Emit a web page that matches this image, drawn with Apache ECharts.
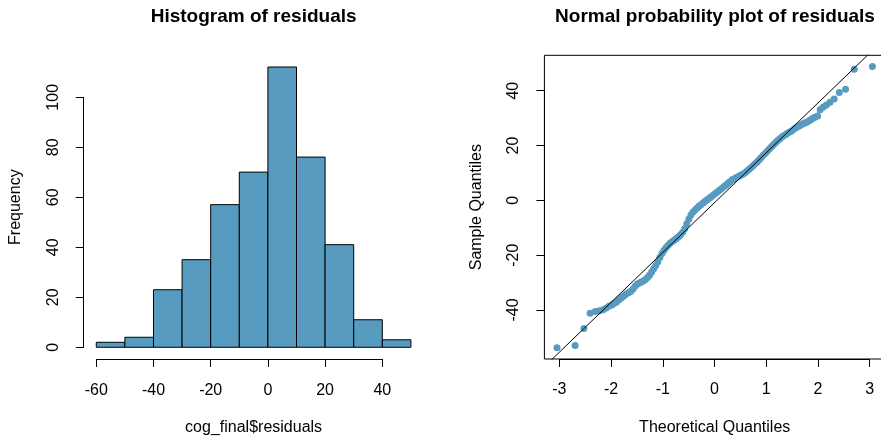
<!DOCTYPE html>
<html>
<head>
<meta charset="utf-8">
<script src="https://cdn.jsdelivr.net/npm/echarts@6/dist/echarts.min.js"></script>
<style>
  html, body { margin: 0; padding: 0; background: #fff; }
  #main { width: 881px; height: 438px; }
</style>
</head>
<body>
<div id="main"></div>
<script>
// histogram of residuals: bin edges and counts
var binEdges = [-60, -50, -40, -30, -20, -10, 0, 10, 20, 30, 40, 50];
var binCounts = [2, 4, 23, 35, 57, 70, 112, 76, 41, 11, 3];
var histXTicks = [-60, 40];   // axis drawn from .. to
var histYTicks = [0, 100];

// normal probability plot: [theoretical quantile, sample quantile]
var qqPoints = [
  [-3.05, -53.8], [-2.70, -53.0], [-2.53, -46.8], [-2.41, -41.2], [-2.31, -40.6],
  [-2.23, -40.3], [-2.16, -39.9], [-2.10, -39.3], [-2.04, -38.6], [-1.99, -38.2],
  [-1.94, -37.6], [-1.90, -37.1], [-1.86, -36.4], [-1.82, -35.8], [-1.78, -35.2],
  [-1.74, -34.6], [-1.70, -34.0], [-1.66, -33.6], [-1.62, -33.2], [-1.58, -32.4],
  [-1.54, -31.4], [-1.50, -30.6], [-1.46, -30.2], [-1.42, -29.8], [-1.38, -29.4],
  [-1.34, -28.9], [-1.30, -28.2], [-1.26, -27.3], [-1.22, -26.2], [-1.18, -25.0],
  [-1.14, -23.8], [-1.10, -22.4], [-1.06, -20.9], [-1.02, -19.4], [-0.98, -18.2],
  [-0.94, -17.2], [-0.90, -16.4], [-0.86, -15.6], [-0.82, -15.0], [-0.78, -14.5],
  [-0.74, -13.9], [-0.70, -13.3], [-0.66, -12.6], [-0.62, -11.7], [-0.58, -10.4],
  [-0.54, -8.6], [-0.50, -6.8], [-0.46, -5.4], [-0.42, -4.3], [-0.38, -3.5],
  [-0.34, -2.8], [-0.30, -2.1], [-0.26, -1.5], [-0.22, -0.9], [-0.18, -0.3],
  [-0.14, 0.3], [-0.10, 0.8], [-0.06, 1.4], [-0.02, 2.0], [0.02, 2.6],
  [0.06, 3.2], [0.10, 3.8], [0.14, 4.4], [0.18, 5.0], [0.22, 5.6],
  [0.26, 6.2], [0.30, 6.9], [0.34, 7.5], [0.38, 7.9], [0.42, 8.3],
  [0.46, 8.7], [0.50, 9.1], [0.54, 9.5], [0.58, 10.0], [0.62, 10.6],
  [0.66, 11.2], [0.70, 11.9], [0.74, 12.6], [0.78, 13.3], [0.82, 14.0],
  [0.86, 14.8], [0.90, 15.6], [0.94, 16.4], [0.98, 17.2], [1.02, 18.0],
  [1.06, 18.8], [1.10, 19.6], [1.14, 20.4], [1.18, 21.1], [1.22, 21.8],
  [1.26, 22.5], [1.30, 23.1], [1.34, 23.6], [1.38, 24.1], [1.42, 24.6],
  [1.46, 25.0], [1.50, 25.5], [1.54, 26.1], [1.58, 26.6], [1.62, 27.0],
  [1.66, 27.4], [1.70, 27.8], [1.74, 28.2], [1.78, 28.5], [1.82, 28.9],
  [1.86, 29.4], [1.90, 29.9], [1.94, 30.3], [1.99, 30.8], [2.04, 33.0],
  [2.10, 34.0], [2.16, 34.8], [2.23, 35.8], [2.31, 37.0], [2.41, 39.3],
  [2.53, 40.5], [2.70, 47.8], [3.05, 48.8]
];
var qqXTicks = [-3, 3];
var qqYTicks = [-40, 40];
var qqIntercept = -0.8;
var qqSlope = 18.18;

var barColor = '#579bc1';
var font = 'Liberation Sans, Arial, Helvetica, sans-serif';

var binData = binCounts.map(function (c, i) { return [binEdges[i], binEdges[i + 1], c]; });

var myChart = echarts.init(document.getElementById('main'), null, { renderer: 'canvas' });

function hiddenAxis(extra) {
  var a = {
    type: 'value',
    axisLine: { show: false },
    axisTick: { show: false },
    axisLabel: { show: false },
    splitLine: { show: false },
    nameTextStyle: { fontFamily: font, fontSize: 16, color: '#000' }
  };
  for (var k in extra) a[k] = extra[k];
  return a;
}

// R style axis: line only between first and last tick, ticks outside
function drawnAxis(extra, rotate, margin) {
  var a = {
    type: 'value',
    axisLine: { show: true, lineStyle: { color: '#000', width: 1 } },
    axisTick: { show: true, inside: false, length: 8, lineStyle: { color: '#000', width: 1 } },
    axisLabel: { show: true, rotate: rotate, margin: margin, fontFamily: font, fontSize: 16, color: '#000',
                 showMinLabel: true, showMaxLabel: true },
    splitLine: { show: false }
  };
  for (var k in extra) a[k] = extra[k];
  return a;
}

var titleStyle = { fontFamily: font, fontSize: 19, fontWeight: 'bold', color: '#000' };

option = {
  backgroundColor: '#fff',
  animation: false,
  title: [
    { text: 'Histogram of residuals', left: 253.6, top: 7, textAlign: 'center', padding: 0, textStyle: titleStyle },
    { text: 'Normal probability plot of residuals', left: 715, top: 7, textAlign: 'center', padding: 0, textStyle: titleStyle }
  ],
  grid: [
    // histogram plot region
    { left: 83.7, top: 55.8, width: 339.8, height: 302.7, containLabel: false, outerBoundsMode: 'none' },
    // histogram x axis (drawn only between -60 and 40)
    { left: 96.3, top: 349, width: 286, height: 10, containLabel: false, outerBoundsMode: 'none' },
    // histogram y axis (0 .. 100)
    { left: 83.7, top: 97.3, width: 10, height: 250, containLabel: false, outerBoundsMode: 'none' },
    // qq plot region with box
    { left: 544.4, top: 55.3, width: 340.6, height: 303.7, containLabel: false, outerBoundsMode: 'none',
      show: true, borderColor: '#000', borderWidth: 1, backgroundColor: 'transparent' },
    // qq x axis (-3 .. 3)
    { left: 559.3, top: 349, width: 310.4, height: 10, containLabel: false, outerBoundsMode: 'none' },
    // qq y axis (-40 .. 40)
    { left: 544.4, top: 90.7, width: 10, height: 219.3, containLabel: false, outerBoundsMode: 'none' }
  ],
  xAxis: [
    hiddenAxis({ gridIndex: 0, min: -64.4, max: 54.4, name: 'cog_final$residuals', nameLocation: 'middle', nameGap: 61 }),
    drawnAxis({ gridIndex: 1, position: 'bottom', min: histXTicks[0], max: histXTicks[1], interval: 20 }, 0, 24),
    hiddenAxis({ gridIndex: 2, min: 0, max: 1 }),
    hiddenAxis({ gridIndex: 3, min: -3.294, max: 3.294, name: 'Theoretical Quantiles', nameLocation: 'middle', nameGap: 61 }),
    drawnAxis({ gridIndex: 4, position: 'bottom', min: qqXTicks[0], max: qqXTicks[1], interval: 1 }, 0, 23),
    hiddenAxis({ gridIndex: 5, min: 0, max: 1 })
  ],
  yAxis: [
    hiddenAxis({ gridIndex: 0, min: -4.48, max: 116.48, name: 'Frequency', nameLocation: 'middle', nameGap: 60, nameRotate: 90 }),
    hiddenAxis({ gridIndex: 1, min: 0, max: 1 }),
    drawnAxis({ gridIndex: 2, position: 'left', min: histYTicks[0], max: histYTicks[1], interval: 20 }, 90, 22),
    hiddenAxis({ gridIndex: 3, min: -57.9, max: 52.9, name: 'Sample Quantiles', nameLocation: 'middle', nameGap: 60, nameRotate: 90 }),
    hiddenAxis({ gridIndex: 4, min: 0, max: 1 }),
    drawnAxis({ gridIndex: 5, position: 'left', min: qqYTicks[0], max: qqYTicks[1], interval: 20 }, 90, 23)
  ],
  series: [
    {
      type: 'custom',
      xAxisIndex: 0,
      yAxisIndex: 0,
      data: binData,
      encode: { x: [0, 1], y: 2 },
      renderItem: function (params, api) {
        var p0 = api.coord([api.value(0), api.value(2)]);
        var p1 = api.coord([api.value(1), 0]);
        return {
          type: 'rect',
          shape: { x: p0[0], y: p0[1], width: p1[0] - p0[0], height: p1[1] - p0[1] },
          style: { fill: barColor, stroke: '#000', lineWidth: 1 }
        };
      }
    },
    {
      type: 'scatter',
      xAxisIndex: 3,
      yAxisIndex: 3,
      data: qqPoints,
      symbol: 'circle',
      symbolSize: 7,
      itemStyle: { color: barColor, opacity: 1 },
      z: 2
    },
    {
      type: 'line',
      xAxisIndex: 3,
      yAxisIndex: 3,
      data: [[-3.4, qqIntercept + qqSlope * -3.4], [3.4, qqIntercept + qqSlope * 3.4]],
      showSymbol: false,
      clip: true,
      lineStyle: { color: '#000', width: 1 },
      z: 3
    }
  ]
};

myChart.setOption(option);
</script>
</body>
</html>
